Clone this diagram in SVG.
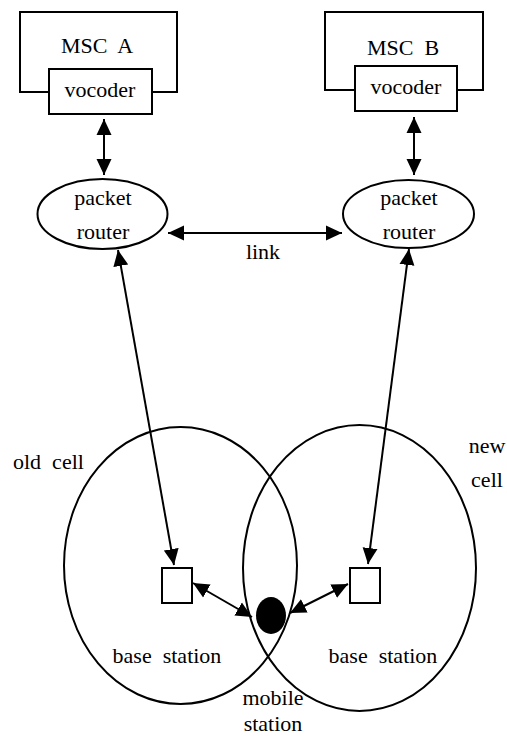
<svg xmlns="http://www.w3.org/2000/svg" width="507" height="742" viewBox="0 0 507 742">
<defs>
<marker id="ah" markerUnits="userSpaceOnUse" markerWidth="16" markerHeight="16" refX="16" refY="7.5" orient="auto-start-reverse" viewBox="0 0 16 15">
<path d="M0,0 L16,7.5 L0,15 z" fill="#000"/>
</marker>
</defs>
<style>
text{font-family:'Liberation Serif','Times New Roman',serif;font-size:22px;fill:#000;white-space:pre}
.s{fill:none;stroke:#000;stroke-width:2}
.w{fill:#fff;stroke:#000;stroke-width:2}
.c{stroke:#000;stroke-width:2;fill:none;marker-start:url(#ah);marker-end:url(#ah)}
</style>
<rect width="507" height="742" fill="#fff"/>
<g id="cells">
<ellipse id="oldcell" class="s" cx="180.5" cy="565.5" rx="116.5" ry="138.5"/>
<ellipse id="newcell" class="s" cx="359.5" cy="568" rx="116.5" ry="143"/>
</g>
<g id="mscA">
<path class="s" d="M49,92 H20 V12 H177 V92 H152"/>
<text x="97" y="53" text-anchor="middle">MSC  A</text>
</g>
<g id="vocoderA">
<rect class="w" x="49" y="69" width="103" height="45"/>
<text x="100" y="97" text-anchor="middle">vocoder</text>
</g>
<g id="mscB">
<path class="s" d="M355,90 H325 V12 H483 V90 H457"/>
<text x="403" y="55" text-anchor="middle">MSC  B</text>
</g>
<g id="vocoderB">
<rect class="w" x="355" y="66" width="102" height="45"/>
<text x="406" y="94" text-anchor="middle">vocoder</text>
</g>
<g id="routerA">
<ellipse class="s" cx="102.5" cy="214" rx="65" ry="35"/>
<text x="103" y="205" text-anchor="middle">packet</text>
<text x="103" y="239" text-anchor="middle">router</text>
</g>
<g id="routerB">
<ellipse class="s" cx="408.5" cy="214" rx="65.5" ry="34"/>
<text x="409" y="205" text-anchor="middle">packet</text>
<text x="409" y="239" text-anchor="middle">router</text>
</g>
<g id="baseA">
<rect class="w" x="162" y="568" width="30" height="35"/>
<text x="167" y="663" text-anchor="middle">base  station</text>
</g>
<g id="baseB">
<rect class="w" x="350" y="568" width="30" height="35"/>
<text x="383" y="663" text-anchor="middle">base  station</text>
</g>
<g id="mobile">
<ellipse cx="271" cy="615.5" rx="15" ry="18.5" fill="#000"/>
<text x="273" y="705" text-anchor="middle">mobile</text>
<text x="273" y="731" text-anchor="middle">station</text>
</g>
<g id="labels">
<text x="13" y="469">old  cell</text>
<text x="487" y="453" text-anchor="middle">new</text>
<text x="487" y="487" text-anchor="middle">cell</text>
<text x="263" y="259" text-anchor="middle">link</text>
</g>
<g id="connectors">
<line class="c" x1="104" y1="119" x2="104" y2="175"/>
<line class="c" x1="414" y1="117" x2="414" y2="175"/>
<line class="c" x1="168" y1="233" x2="342" y2="233"/>
<line class="c" x1="118" y1="250" x2="174" y2="565"/>
<line class="c" x1="409" y1="249" x2="368" y2="564"/>
<line class="c" x1="193" y1="583" x2="252" y2="617"/>
<line class="c" x1="348" y1="584" x2="290" y2="613"/>
</g>
</svg>
